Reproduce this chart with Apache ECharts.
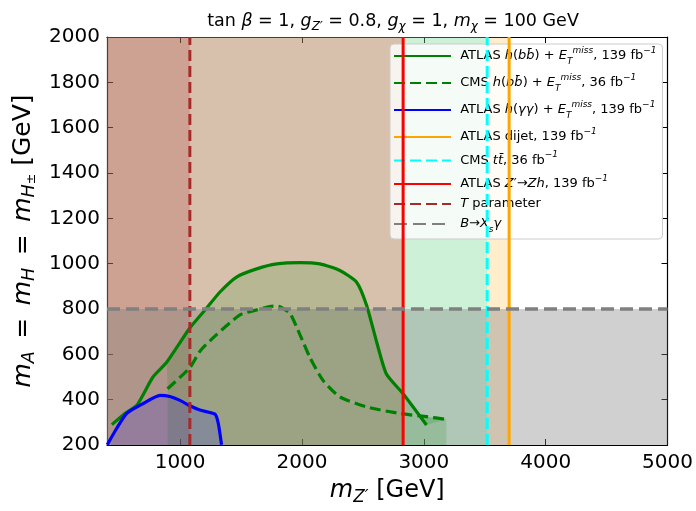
<!DOCTYPE html>
<html><head><meta charset="utf-8">
<script src="https://cdn.jsdelivr.net/npm/echarts@6/dist/echarts.min.js"></script>
<style>html,body{margin:0;padding:0;background:#fff}#c{width:696px;height:511px}</style>
</head><body><div id="c"></div>
<script>
// ---- data ----
const xRange = [400, 5000];
const yRange = [200, 2000];
const xTicks = [1000, 2000, 3000, 4000, 5000];
const yInterval = 200;
const atlasBB = [[440,290],[550,340],[645,375],[777,500],[890,565],[1081,717],[1218,804],[1327,875],[1463,941],[1628,977],[1792,999],[1983,1005],[2147,999],[2311,970],[2447,919],[2530,817],[2611,658],[2693,513],[2830,426],[3022,288]];
const cmsBB = [[897,448],[1081,542],[1163,614],[1299,687],[1491,774],[1628,796],[1764,813],[1819,810],[1901,781],[1983,687],[2065,586],[2174,484],[2311,412],[2530,368],[2803,339],[3022,325],[3185,313]];
const atlasGG = [[402,201],[480,274],[561,339],[698,383],[835,419],[917,414],[999,397],[1081,373],[1163,354],[1286,336],[1313,296],[1340,201]];
const bandStartIndex = 4; // ATLAS bb contour point where the shaded band to the CMS contour begins
const dijetLimit = 3700;
const cmsTTLimit = 3520;
const zhLimit = 2830;
const tParamLimit = 1080;
const bsgLimit = 800;

const F = 'DejaVu Sans';
const names = ['ATLAS bb','CMS bb','ATLAS gg','ATLAS dijet','CMS tt','ATLAS Zh','T parameter','B Xsg'];
const labels = {
  'ATLAS bb': '{n|ATLAS }{i|h}{n|(}{i|bb̄}{n|) + }{i|E}{sb|T}{sp|miss}{n|, 139 fb}{sp|−1}',
  'CMS bb': '{n|CMS }{i|h}{n|(}{i|bb̄}{n|) + }{i|E}{sb|T}{sp|miss}{n|, 36 fb}{sp|−1}',
  'ATLAS gg': '{n|ATLAS }{i|h}{n|(}{i|γγ}{n|) + }{i|E}{sb|T}{sp|miss}{n|, 139 fb}{sp|−1}',
  'ATLAS dijet': '{n|ATLAS dijet, 139 fb}{sp|−1}',
  'CMS tt': '{n|CMS }{i|tt̄}{n|, 36 fb}{sp|−1}',
  'ATLAS Zh': '{n|ATLAS }{i|Z}{n|′→}{i|Zh}{n|, 139 fb}{sp|−1}',
  'T parameter': '{i|T}{n| parameter}',
  'B Xsg': '{i|B}{n|→}{i|X}{sb|s}{i|γ}'
};
const richL = {
  n: {fontFamily: F, fontSize: 13, color: '#000', lineHeight: 20},
  i: {fontFamily: F, fontSize: 13, color: '#000', fontStyle: 'italic', lineHeight: 20},
  sp: {fontFamily: F, fontSize: 9, color: '#000', fontStyle: 'italic', verticalAlign: 'top', lineHeight: 11},
  sb: {fontFamily: F, fontSize: 9, color: '#000', fontStyle: 'italic', verticalAlign: 'bottom', lineHeight: 11}
};

function lineSeries(name, data, color, width, dash, z, smooth) {
  return {name, type: 'line', data, symbol: 'none', smooth: smooth || false, z,
    lineStyle: {color, width, type: dash || 'solid'}, itemStyle: {color}, silent: true, animation: false};
}
function fillSeries(data, color) {
  return {type: 'line', data, symbol: 'none', smooth: 0.2, z: 2, lineStyle: {width: 0, opacity: 0},
    areaStyle: {color, origin: 'start', opacity: 1}, silent: true, animation: false};
}
function polygonSeries(points, color) {
  return {type: 'custom', coordinateSystem: 'cartesian2d', data: [points[0]], z: 2, silent: true, animation: false,
    renderItem: (params, api) => ({type: 'polygon', shape: {points: points.map(p => api.coord(p))}, style: {fill: color}})};
}
const vline = v => [[v, yRange[0]], [v, yRange[1]]];
const hline = v => [[xRange[0], v], [xRange[1], v]];
const bandPts = atlasBB.slice(bandStartIndex).concat(cmsBB.slice().reverse());

const regions = {
  type: 'line', data: [], z: 1, silent: true, animation: false,
  markArea: {silent: true, data: [
    [{xAxis: xRange[0], yAxis: yRange[0], itemStyle: {color: 'rgba(255,165,0,0.2)'}}, {xAxis: dijetLimit, yAxis: yRange[1]}],
    [{xAxis: xRange[0], yAxis: yRange[0], itemStyle: {color: 'rgba(0,255,255,0.2)'}}, {xAxis: cmsTTLimit, yAxis: yRange[1]}],
    [{xAxis: xRange[0], yAxis: yRange[0], itemStyle: {color: 'rgba(255,0,0,0.2)'}}, {xAxis: zhLimit, yAxis: yRange[1]}],
    [{xAxis: xRange[0], yAxis: yRange[0], itemStyle: {color: 'rgba(165,42,42,0.2)'}}, {xAxis: tParamLimit, yAxis: yRange[1]}],
    [{xAxis: xRange[0], yAxis: yRange[0], itemStyle: {color: 'rgba(128,128,128,0.37)'}}, {xAxis: xRange[1], yAxis: bsgLimit}]
  ]}
};

function nameRich(fs) {
  return {
    n: {fontFamily: F, fontSize: fs, color: '#000', lineHeight: 30},
    i: {fontFamily: F, fontSize: fs, color: '#000', fontStyle: 'italic', lineHeight: 30},
    sb: {fontFamily: F, fontSize: fs * 0.7, color: '#000', fontStyle: 'italic', verticalAlign: 'bottom', lineHeight: 17},
    sp: {fontFamily: F, fontSize: fs * 0.5, color: '#000', verticalAlign: 'bottom', lineHeight: 27}
  };
}
const axisBase = {
  type: 'value', axisLine: {show: true, onZero: false, lineStyle: {color: '#000', width: 1.2}},
  splitLine: {show: false}
};
const chart = echarts.init(document.getElementById('c'), null, {renderer: 'canvas'});
chart.setOption({
  animation: false,
  title: {
    text: '{n|tan }{i|β}{n| = 1, }{i|g}{sb|Z′}{n| = 0.8, }{i|g}{sb|χ}{n| = 1, }{i|m}{sb|χ}{n| = 100 GeV}',
    left: 388, top: 4, textAlign: 'center',
    textStyle: {fontWeight: 'normal', rich: {
      n: {fontFamily: F, fontSize: 17.5, color: '#000', lineHeight: 24, fontWeight: 'normal'},
      i: {fontFamily: F, fontSize: 17.5, color: '#000', fontStyle: 'italic', lineHeight: 24, fontWeight: 'normal'},
      sb: {fontFamily: F, fontSize: 12, color: '#000', fontStyle: 'italic', verticalAlign: 'bottom', lineHeight: 13, fontWeight: 'normal'}
    }}
  },
  grid: {left: 107, right: 28, top: 37, bottom: 59, containLabel: false},
  legend: {
    orient: 'vertical', left: 390, top: 44, padding: [2, 6, 5, 3], itemGap: 7,
    itemWidth: 57, itemHeight: 12,
    itemStyle: {opacity: 0, borderWidth: 0},
    backgroundColor: 'rgba(255,255,255,0.8)', borderColor: '#cccccc', borderWidth: 1, borderRadius: 4,
    data: names, formatter: n => '{n| }' + labels[n], textStyle: {rich: richL}, selectedMode: false
  },
  xAxis: [
    Object.assign({}, axisBase, {min: xRange[0], max: xRange[1], position: 'bottom',
      axisTick: {show: true, inside: true, length: 6, customValues: xTicks, lineStyle: {color: '#000', width: 1}},
      axisLabel: {customValues: xTicks, formatter: v => String(v), fontFamily: F, fontSize: 20, color: '#000', margin: 8},
      name: '{i|m}{sb|Z′}{n| [GeV]}', nameLocation: 'middle', nameGap: 31, nameTextStyle: {rich: nameRich(24)}}),
    Object.assign({}, axisBase, {min: xRange[0], max: xRange[1], position: 'top',
      axisTick: {show: true, inside: true, length: 6, customValues: xTicks, lineStyle: {color: '#000', width: 1}},
      axisLabel: {show: false}})
  ],
  yAxis: [
    Object.assign({}, axisBase, {min: yRange[0], max: yRange[1], interval: yInterval, position: 'left',
      axisTick: {show: true, inside: true, length: 6, lineStyle: {color: '#000', width: 1}},
      axisLabel: {formatter: v => String(v), fontFamily: F, fontSize: 20, color: '#000', margin: 7},
      name: '{i|m}{sb|A}{n|\u2002=\u2002}{i|m}{sb|H}{n|\u2002=\u2002}{i|m}{sb|H}{sp|±}{n| [GeV]}', nameLocation: 'middle', nameGap: 38, nameRotate: 90,
      nameTextStyle: {rich: nameRich(25)}}),
    Object.assign({}, axisBase, {min: yRange[0], max: yRange[1], interval: yInterval, position: 'right',
      axisTick: {show: true, inside: true, length: 6, lineStyle: {color: '#000', width: 1}},
      axisLabel: {show: false}})
  ],
  series: [
    regions,
    polygonSeries(bandPts, 'rgba(0,128,0,0.15)'),
    fillSeries(cmsBB, 'rgba(0,128,0,0.15)'),
    fillSeries(atlasGG, 'rgba(0,0,255,0.15)'),
    lineSeries('ATLAS bb', atlasBB, '#008000', 3.2, null, 3, 0.2),
    lineSeries('CMS bb', cmsBB, '#008000', 3.2, [11, 5], 3, 0.2),
    lineSeries('ATLAS gg', atlasGG, '#0000ff', 3.2, null, 3, 0.2),
    lineSeries('ATLAS dijet', vline(dijetLimit), '#ffa500', 3, null, 4),
    lineSeries('CMS tt', vline(cmsTTLimit), '#00ffff', 3, [11, 5], 4),
    lineSeries('ATLAS Zh', vline(zhLimit), '#ff0000', 3, null, 4),
    lineSeries('T parameter', vline(tParamLimit), '#a52a2a', 3, [11, 5], 4),
    lineSeries('B Xsg', hline(bsgLimit), '#808080', 3.5, [13, 6], 4)
  ]
});
</script></body></html>
